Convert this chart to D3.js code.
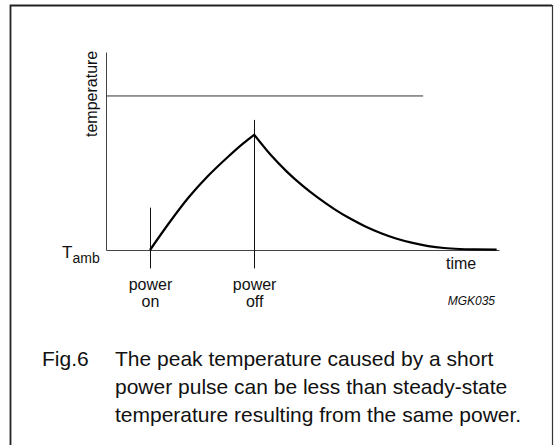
<!DOCTYPE html>
<html>
<head>
<meta charset="utf-8">
<script src="https://cdn.jsdelivr.net/npm/d3@7"></script>
<style>
body { margin: 0; background: #fff; }
svg { display: block; }
text { font-family: "Liberation Sans", Arial, sans-serif; fill: #111; }
</style>
</head>
<body>
<svg id="svg1" width="554" height="445"></svg>
<script>
// curve values, time and temperature in arbitrary units (Tamb = 0)
var riseTime = [11.2, 16, 21, 26, 31, 35, 37.7];
var riseTemp = [0, 13.5, 26.5, 37.5, 47, 54, 58.2];
var fallTime = [37.7, 42, 46, 50, 54, 58, 62, 66, 70, 74, 78, 82, 86, 90, 94, 99.4];
var fallTemp = [58.2, 47.8, 39.6, 32.5, 26.3, 20.8, 16.0, 11.9, 8.5, 5.7, 3.6, 2.0, 1.0, 0.5, 0.3, 0.2];

// steady-state level line
var steadyTemp = 77.8;
var steadyEnd = 80.7;

// power on / power off markers
var markerTime = [11.2, 37.7];
var markerTop = [21.4, 65.7];
var markerBottom = -9.3;
var markerLabels = [["power", "on"], ["power", "off"]];

var captionLabel = "Fig.6";
var captionLines = ["The peak temperature caused by a short",
                    "power pulse can be less than steady-state",
                    "temperature resulting from the same power."];

var svg = d3.select('#svg1');

// frame
svg.append("path")
    .attr("d", "M10.5,445V5.5H552")
    .attr("fill", "none")
    .attr("stroke", "#222")
    .attr("stroke-width", 1.8);
svg.append("line")
    .attr("x1", 552.5).attr("x2", 552.5)
    .attr("y1", 5).attr("y2", 445)
    .attr("stroke", "#333")
    .attr("stroke-width", 1.2);

var xScale = d3.scaleLinear().domain([0, 100]).range([106, 499]);
var yScale = d3.scaleLinear().domain([0, 100]).range([250, 52]);

var xAxis = d3.axisBottom(xScale).tickValues([]).tickSizeOuter(0);
var yAxis = d3.axisLeft(yScale).tickValues([]).tickSizeOuter(0);

svg.append("g")
    .attr("transform", "translate(0," + yScale(0) + ")")
    .call(xAxis)
    .select(".domain").attr("stroke", "#444");

svg.append("g")
    .attr("transform", "translate(" + xScale(0) + ",0)")
    .call(yAxis)
    .select(".domain").attr("stroke", "#444");

// steady-state line
var flat = d3.line()
    .x(function(d) { return xScale(d[0]); })
    .y(function(d) { return yScale(d[1]); });
svg.append("path")
    .attr("d", flat([[0, steadyTemp], [steadyEnd, steadyTemp]]))
    .attr("fill", "none")
    .attr("stroke", "#333")
    .attr("stroke-width", 1);

// markers
markerTime.forEach(function(t, i) {
    svg.append("line")
        .attr("x1", Math.round(xScale(t)) + 0.5).attr("x2", Math.round(xScale(t)) + 0.5)
        .attr("y1", yScale(markerTop[i])).attr("y2", yScale(markerBottom))
        .attr("stroke", "#111")
        .attr("stroke-width", 1);
    var lbl = svg.append("text")
        .attr("text-anchor", "middle")
        .style("font-size", "16px");
    markerLabels[i].forEach(function(s, j) {
        lbl.append("tspan")
            .attr("x", xScale(t) + 0.5)
            .attr("y", 290 + j * 16.5)
            .text(s);
    });
});

// temperature curve
var curveLine = d3.line()
    .x(function(d) { return xScale(d[0]); })
    .y(function(d) { return yScale(d[1]); })
    .curve(d3.curveMonotoneX);

var rise = riseTime.map(function(t, i) { return [t, riseTemp[i]]; });
var fall = fallTime.map(function(t, i) { return [t, fallTemp[i]]; });

svg.append("path")
    .attr("d", curveLine(rise) + curveLine(fall).replace(/^M/, "L"))
    .attr("fill", "none")
    .attr("stroke", "#000")
    .attr("stroke-width", 2.2)
    .attr("stroke-linejoin", "miter");

// axis labels
svg.append("text")
    .attr("transform", "translate(97,137) rotate(-90)")
    .style("font-size", "16px")
    .text("temperature");

var tamb = svg.append("text")
    .attr("x", 62)
    .attr("y", 258)
    .style("font-size", "17px");
tamb.append("tspan").text("T");
tamb.append("tspan")
    .attr("x", 72.5)
    .attr("y", 263)
    .style("font-size", "14px")
    .text("amb");

svg.append("text")
    .attr("x", 446)
    .attr("y", 269)
    .style("font-size", "16px")
    .text("time");

svg.append("text")
    .attr("x", 495)
    .attr("y", 305)
    .attr("text-anchor", "end")
    .style("font-size", "12px")
    .style("font-style", "italic")
    .text("MGK035");

// caption
svg.append("text")
    .attr("x", 42)
    .attr("y", 366)
    .style("font-size", "21px")
    .text(captionLabel);

var cap = svg.append("text").style("font-size", "21px");
captionLines.forEach(function(s, i) {
    cap.append("tspan")
        .attr("x", 115)
        .attr("y", 366 + i * 28)
        .text(s);
});
</script>
</body>
</html>
